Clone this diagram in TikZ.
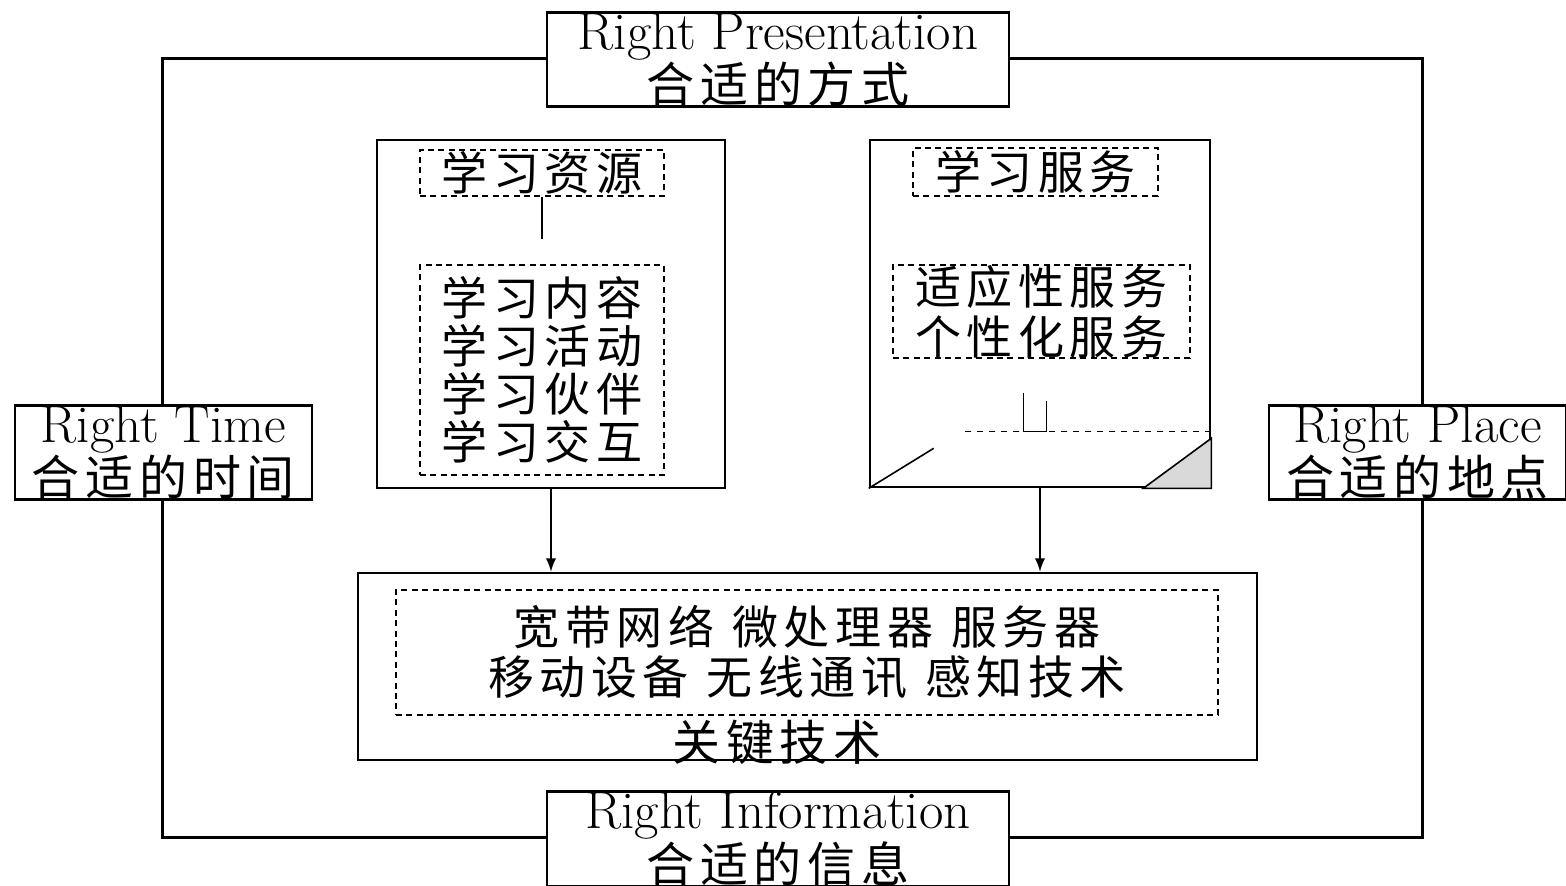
\documentclass[tikz,border=0pt]{standalone}
\usepackage{fontspec}
\usepackage{tikz}
\newfontfamily\cjk[LetterSpace=12]{Noto Sans CJK SC}
\usetikzlibrary{arrows, positioning, calc}
\tikzset{
  frame/.style={rectangle,draw=black,line width=1.5pt},
  rightbox/.style={rectangle,draw=black,line width=1.3pt,fill=white,align=center,inner sep=0pt,
    minimum width=148.5pt,minimum height=45.5pt,font=\fontsize{26.5}{24}\selectfont},
  panel/.style={rectangle,draw=black,line width=1.3pt,inner sep=0pt},
  dashbox/.style={rectangle,draw=black,line width=1pt,dash pattern=on 3pt off 2.2pt,inner sep=0pt,
    align=center,font=\cjk\fontsize{23}{24}\selectfont},
  caption/.style={inner sep=0pt,font=\cjk\fontsize{24}{25}\selectfont},
  link/.style={line width=1.3pt,-latex},
  fold/.style={line width=0.8pt},
}
\begin{document}
\begin{tikzpicture}[x=0.5pt,y=-0.5pt]
	    \useasboundingbox (0,0) rectangle (1566,885);
	    % outer frame and the four "right" labels
	    \node[frame,minimum width=630pt,minimum height=389.5pt] (frame) at (792,447.5) {};
	    \node[rightbox,minimum width=231pt,minimum height=46.5pt] (pres) at (778,59.5) {Right Presentation\\{\cjk\fontsize{24}{24}\selectfont 合适的方式}};
	    \node[rightbox,minimum width=231pt,minimum height=46pt] (info) at (778,839) {Right Information\\{\cjk\fontsize{24}{24}\selectfont 合适的信息}};
	    \node[rightbox] (time) at (163.5,452.5) {Right Time\\{\cjk\fontsize{24}{24}\selectfont 合适的时间}};
	    \node[rightbox] (place) at (1417.5,452.5) {Right Place\\{\cjk\fontsize{24}{24}\selectfont 合适的地点}};
	    % learning resources
	    \node[panel,minimum width=174pt,minimum height=174pt] (res) at (551,314) {};
	    \node[dashbox,minimum width=122pt,minimum height=23pt] (resT) at (542,173) {学习资源};
	    \node[dashbox,minimum width=122pt,minimum height=105pt] (resL) at (542,370) {学习内容\\学习活动\\学习伙伴\\学习交互};
	    \draw[line width=1pt,shorten >=12.5pt] (resT) -- (resL);
	    % learning services
	    \node[panel,minimum width=170pt,minimum height=173.5pt] (serv) at (1040,313.5) {};
	    \node[dashbox,minimum width=122.5pt,minimum height=24pt] (servT) at (1035.5,172) {学习服务};
	    \node[dashbox,minimum width=148.5pt,minimum height=46.5pt,font=\cjk\fontsize{23}{25}\selectfont] (servL) at (1041.5,311.5) {适应性服务\\个性化服务};
	    \draw[fold] (serv.south west) -- ($(serv.south west)+(65,-40)$);
	    \draw[fold,fill=black!15] ($(serv.south east)+(-68,0)$) -- ($(serv.south east)+(0,-50)$) -- (serv.south east) -- cycle;
	    \draw[fold,dashed] ($(serv.south east)+(0,-57)$) -- ($(serv.south east)+(-248,-57)$);
	    \draw[fold] ($(serv.south east)+(-188,-95)$) -- ($(serv.south east)+(-188,-57)$) -- ($(serv.south east)+(-165,-57)$) -- ($(serv.south east)+(-165,-87)$);
	    % key technologies
	    \node[panel,minimum width=449.5pt,minimum height=93.5pt] (tech) at (807.5,666.5) {};
	    \node[dashbox,minimum width=411pt,minimum height=62.5pt,font=\cjk\fontsize{23}{25}\selectfont] (techL) at (807,652.5) {宽带网络\hspace{9pt}微处理器\hspace{9pt}服务器\\移动设备\hspace{9pt}无线通讯\hspace{9pt}感知技术};
	    \node[caption] (techN) at (777,742) {关键技术};
	    \draw[link] (res.south) -- (res.south |- tech.north);
	    \draw[link] (serv.south) -- (serv.south |- tech.north);
	\end{tikzpicture}
\end{document}
